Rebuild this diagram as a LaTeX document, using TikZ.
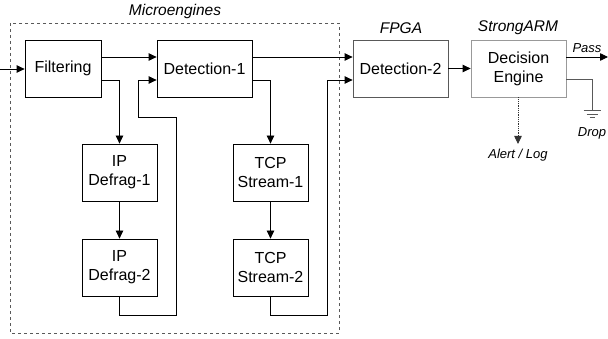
\documentclass[tikz,border=0pt]{standalone}
\usepackage{fontspec}
\setmainfont{Liberation Sans}
\usetikzlibrary{arrows.meta}

\begin{document}
\begin{tikzpicture}[
    x=1pt, y=-1pt,
    >={Triangle[length=8pt,width=7.5pt]},
    every node/.style={font=\fontsize{16}{19}\selectfont},
    stage/.style={draw, line width=0.8pt, minimum width=76pt, minimum height=57pt,
      align=center, inner sep=1pt},
    widestage/.style={stage, minimum width=95pt},
    flow/.style={->, line width=0.8pt},
    tag/.style={font=\fontsize{15.5}{18}\selectfont\itshape},
    smalltag/.style={font=\fontsize{13}{16}\selectfont\itshape}
  ]
  \useasboundingbox (0,0) rectangle (608,339);

  % --- Microengines ---
  \draw[dashed, gray!70!black, line width=0.8pt] (10,23) rectangle (339,333);
  \node[tag] (lblME) at (175,11) {Microengines};

  \node[stage]     (filt) at (63,68.5)   {Filtering};
  \node[widestage] (det1) at (204.5,68.5) {Detection-1};
  \node[stage, minimum width=75pt] (ipd1) at (119.5,172.5) {IP\\Defrag-1};
  \node[stage, minimum width=75pt] (ipd2) at (119.5,267.5) {IP\\Defrag-2};
  \node[stage, minimum width=75pt] (tcp1) at (270.5,172.5) {TCP\\Stream-1};
  \node[stage, minimum width=75pt] (tcp2) at (270.5,267.5) {TCP\\Stream-2};

  % --- FPGA / StrongARM ---
  \node[widestage, draw=gray!70!black] (det2) at (400.5,68.5) {Detection-2};
  \node[tag] (lblFPGA) at (401,28) {FPGA};
  \node[widestage, draw=gray!80] (dec) at (518.5,68.5) {Decision\\Engine};
  \node[tag] (lblARM) at (518,28) {StrongARM};

  % --- ends of the free connectors ---
  \coordinate (in) at (0,69);
  \coordinate (pass) at (608,57);
  \coordinate (gnd) at (592,111);
  \coordinate (alert) at (518,144);

  % --- main path ---
  \draw[flow] (in) -- (filt.west |- in);
  \draw[flow] ([yshift=11.5pt]filt.east) -- ([yshift=11.5pt]det1.west);
  \draw[flow] ([yshift=11.5pt]det1.east) -- ([yshift=11.5pt]det2.west);
  \draw[flow] (det2) -- (dec);

  % --- IP defragmentation branch ---
  \draw[flow] ([yshift=-11.5pt]filt.east) -| (ipd1.north);
  \draw[flow] (ipd1) -- (ipd2);
  \draw[flow] (ipd2.south) |- (176,315) |- (138,117) |- ([yshift=-11.5pt]det1.west);

  % --- TCP stream branch ---
  \draw[flow] ([yshift=-11.5pt]det1.east) -| (tcp1.north);
  \draw[flow] (tcp1) -- (tcp2);
  \draw[flow] (tcp2.south) |- (327,315) |- ([yshift=-11.5pt]det2.west);

  % --- outputs of the decision engine ---
  \draw[flow] ([yshift=11.5pt]dec.east) -- (pass);
  \node[smalltag, anchor=south] (lblPass) at (587,56) {Pass};
  \draw[gray!70!black, line width=1pt] ([yshift=-11.5pt]dec.east) -| (gnd);
  \draw[gray!70!black, line width=1pt]
    (583.5,111) -- (600.5,111)
    (586.5,114.5) -- (597.5,114.5)
    (589.5,118) -- (594.5,118);
  \node[smalltag] (lblDrop) at (592,133) {Drop};
  \draw[->, densely dotted, gray!40!black, line width=0.8pt] (dec.south -| alert) -- (alert);
  \node[smalltag] (lblAlert) at (518,155) {Alert / Log};
\end{tikzpicture}
\end{document}
